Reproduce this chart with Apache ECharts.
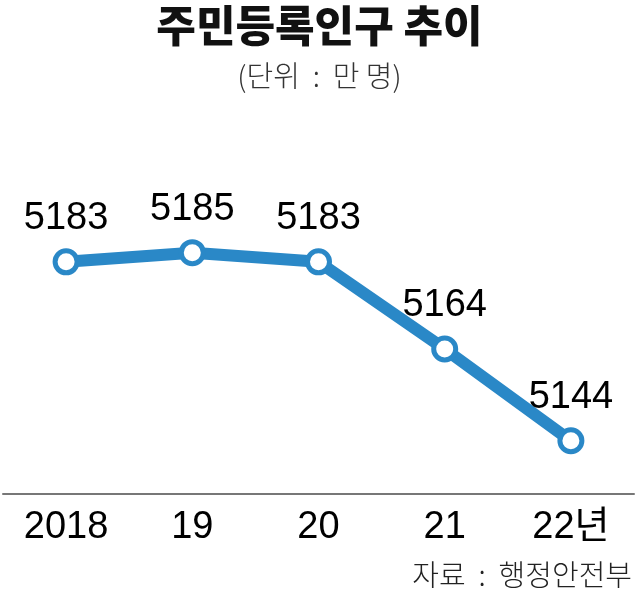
<!DOCTYPE html>
<html>
<head>
<meta charset="utf-8">
<script src="https://cdn.jsdelivr.net/npm/echarts@6/dist/echarts.min.js"></script>
<style>
    html, body { margin: 0; padding: 0; background: #fff; }
    #chart { width: 639px; height: 595px; }
</style>
</head>
<body>
<div id="chart"></div>
<script>
    // 주민등록인구 (만 명)
    var years = ['2018', '19', '20', '21', '22년'];
    var population = [5183, 5185, 5183, 5164, 5144];

    var numFont = '"Liberation Sans", "Noto Sans CJK KR", sans-serif';
    var krFont = '"Noto Sans CJK KR", sans-serif';
    var blue = '#2a88c7';

    var myChart = echarts.init(document.getElementById('chart'));
    myChart.setOption({
        backgroundColor: '#fff',
        animation: false,
        title: [{
            text: '주민등록인구 추이',
            subtext: '(단위  :  만 명)',
            left: 'center',
            top: -3,
            itemGap: 10,
            textStyle: {
                fontFamily: krFont,
                fontSize: 43,
                fontWeight: 900,
                lineHeight: 48,
                color: '#111'
            },
            subtextStyle: {
                fontFamily: krFont,
                fontSize: 29,
                fontWeight: 300,
                lineHeight: 32,
                color: '#333'
            }
        }, {
            text: '자료  :  행정안전부',
            right: 2,
            bottom: 1,
            textStyle: {
                fontFamily: krFont,
                fontSize: 29,
                fontWeight: 300,
                color: '#222'
            }
        }],
        grid: {
            left: 3,
            right: 5,
            top: 182,
            bottom: 101
        },
        xAxis: {
            type: 'category',
            data: years,
            boundaryGap: true,
            axisLine: { lineStyle: { color: '#777', width: 2 } },
            axisTick: {
                alignWithLabel: true,
                inside: true,
                length: 19,
                lineStyle: { color: '#777', width: 2 }
            },
            axisLabel: {
                margin: 15,
                fontFamily: numFont,
                fontSize: 38,
                color: '#000'
            }
        },
        yAxis: {
            type: 'value',
            min: 5132.4,
            max: 5200.4,
            show: false,
            splitLine: { show: false }
        },
        series: [{
            type: 'line',
            data: population,
            symbol: 'circle',
            symbolSize: 22,
            lineStyle: { color: blue, width: 12 },
            itemStyle: { color: '#fff', borderColor: blue, borderWidth: 5 },
            label: {
                show: true,
                position: 'top',
                distance: 11,
                fontFamily: numFont,
                fontSize: 38,
                color: '#000'
            }
        }]
    });
</script>
</body>
</html>
